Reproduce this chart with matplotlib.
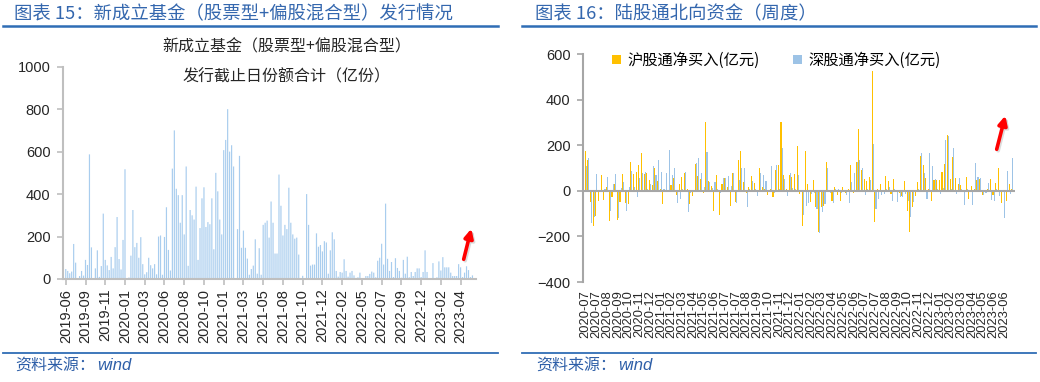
import matplotlib
matplotlib.use('Agg')
import matplotlib.pyplot as plt
import numpy as np
from matplotlib.lines import Line2D
from matplotlib.patches import Patch

plt.rcParams['font.family'] = ['Liberation Sans', 'Noto Sans CJK SC']

# ---------------- data: left chart (weekly new fund issuance, 亿份) ----------------
fund_ticklabels = ['2019-06', '2019-09', '2019-11', '2020-01', '2020-03', '2020-06', '2020-08',
                   '2020-10', '2021-01', '2021-03', '2021-05', '2021-08', '2021-10', '2021-12',
                   '2022-02', '2022-05', '2022-07', '2022-09', '2022-12', '2023-02', '2023-04']
fund_values = [
    47, 38, 27, 35, 165, 77, 3, 14, 38, 16,
    90, 66, 587, 149, 0, 50, 135, 10, 61, 308,
    90, 64, 42, 104, 50, 150, 292, 94, 45, 184,
    517, 0, 7, 110, 325, 150, 170, 100, 197, 70,
    22, 32, 100, 65, 50, 70, 22, 200, 205, 20,
    198, 338, 137, 40, 520, 700, 425, 395, 265, 395,
    210, 530, 62, 325, 300, 280, 435, 90, 240, 380,
    432, 245, 268, 258, 380, 140, 500, 413, 280, 210,
    607, 655, 800, 600, 630, 530, 0, 235, 580, 147,
    228, 147, 96, 20, 47, 63, 187, 25, 145, 20,
    255, 265, 275, 195,
    365, 265, 120, 120, 492, 345, 205, 255, 235, 430,
    265, 210, 190, 195, 115, 0, 15, 0, 400, 255,
    63, 68, 68, 215, 152, 160, 130, 178, 172, 25,
    135, 220, 187, 38, 11, 33, 30, 93, 38, 11,
    30, 38, 17, 5, 8, 30, 0, 0, 14, 14,
    24, 35, 30, 8, 86, 100, 166, 68, 355, 95,
    38, 80, 9, 98, 52, 38, 6, 90, 25, 105,
    8, 33, 14, 33, 50, 50, 9, 33, 135, 33,
    0, 0, 75, 0, 8, 83, 40, 103, 55, 55,
    55, 30, 14, 14, 14, 70, 55, 9, 30, 60,
    42, 9, 17]

# ---------------- data: right chart (weekly northbound flows, 亿元) ----------------
north_ticklabels = ['2020-07', '2020-07', '2020-08', '2020-09', '2020-10', '2020-11', '2020-12',
                    '2021-01', '2021-02', '2021-03', '2021-04', '2021-05', '2021-06', '2021-07',
                    '2021-07', '2021-08', '2021-09', '2021-10', '2021-11', '2021-12',
                    '2022-01', '2022-02', '2022-03', '2022-04', '2022-05', '2022-06', '2022-07',
                    '2022-07', '2022-08', '2022-09', '2022-10', '2022-11', '2022-12',
                    '2023-01', '2023-02', '2023-03', '2023-04', '2023-05', '2023-06', '2023-06']
sh_connect = [
    175, 137, -48, -155, -111, -44, 69, -41, 18, -133,
    -29, 32, -126, -51, 73, -53, -58, 127, 73, 82,
    115, 164, 73, 79, 47, 25, 102, 41, 10, -58,
    -4, 5, 25, 54, -19, 32, 61, 79, 6, -58,
    -23, 117, 67, 50, -9, 301, 44, 23, -88, 69,
    -107, 29, 54, 15, -66, 79, -48, 134, 175, 39,
    -9, 15, 64, 35, 5, 98, 18, 8, -19, 6,
    -26, 91, 112, 301, 69, 6, 69, 61, 73, 196,
    -12, -155, 175, 29, -48, 47, -70, -180, -73, -67,
    127, 4, -44, 15, -19, -45, 15, -9, 6, 112,
    -9, 127, 272, 91, 50, 44, 61, 524, -136, 8,
    29, -4, 64, 44, -12, 50, 5, -9, -23, 44,
    -88, -180, -70, -23, 39, 152, 112, 58, 8, -44,
    47, 47, 47, 82, 117, 244, 50, 149, 54, 29,
    25, 3, 61, -38, 20, 6, 47, 50, -19, 5,
    10, 50, -19, 35, 98, -55, 5, -44, 32, 6]
sz_connect = [
    108, 143, -140, -114, 72, -6, 5, 8, 61, -88,
    28, 73, -118, 12, 38, -88, 18, 88, 18, -26,
    54, 80, 82, 10, 32, 108, 69, 137, 83, 6,
    76, 178, 69, 102, -53, -38, 8, 83, -92, -10,
    5, 123, 142, 76, 18, 168, 39, 12, 39, 6,
    -9, 54, 58, 64, 23, 76, -55, 47, 102, 98,
    -70, 8, 42, 10, -23, 79, 69, 44, -5, 108,
    -8, 112, 10, 187, 50, -23, 76, 12, 8, 69,
    -6, -107, -66, -53, -12, -9, -82, -184, -92, -58,
    98, -9, -53, 10, 6, -8, -4, -19, -53, 39,
    76, 127, 137, 98, -19, 8, 47, 204, -82, -34,
    -19, -12, 10, 18, -44, 10, -48, -26, -29, -12,
    -44, -114, -48, -6, 8, 166, 76, -38, 166, 108,
    50, 10, -16, 12, 222, 239, 8, 187, -15, 54,
    6, -63, 10, -5, -63, 124, 61, 54, -19, -9,
    35, -41, -45, 6, -23, -6, -121, 88, -12, 146]

W, H = 1040, 382
fig = plt.figure(figsize=(W / 100, H / 100), dpi=100)
fig.patch.set_facecolor('white')

def fx(px):
    return px / W

def fy(py):
    return 1 - py / H

HEAD_BLUE = '#3467AE'
LINE_BLUE = '#2F6DB5'
AX_GREY = '#BFBFBF'
TXT = '#262626'

# ---------------- left chart ----------------
ax1 = fig.add_axes([fx(63), fy(279), fx(476) - fx(63), fy(66.7) - fy(279)])
xf = np.arange(len(fund_values))
ax1.bar(xf, fund_values, width=0.6, color='#A9CDEE', linewidth=0, snap=False)
ax1.set_xlim(-1.4, len(fund_values) + 0.8)
ax1.set_ylim(0, 1000)
ax1.set_yticks(np.arange(0, 1001, 200))
ax1.set_xticks(np.arange(0, len(fund_ticklabels) * 10, 10))
ax1.set_xticklabels(fund_ticklabels, rotation=90)
for s in ['top', 'right']:
    ax1.spines[s].set_visible(False)
for s in ['left', 'bottom']:
    ax1.spines[s].set_color(AX_GREY)
    ax1.spines[s].set_linewidth(1.5)
ax1.tick_params(axis='both', colors=AX_GREY, labelcolor=TXT, length=4, width=1.2, labelsize=10.5)
ax1.tick_params(axis='y', pad=5)
ax1.tick_params(axis='x', pad=3)

fig.text(fx(287), fy(47), '新成立基金（股票型+偏股混合型）', ha='center', va='center',
         fontsize=11.5, color=TXT, family=['Noto Sans CJK SC'])
fig.text(fx(287), fy(77), '发行截止日份额合计（亿份）', ha='center', va='center',
         fontsize=11.5, color=TXT, family=['Noto Sans CJK SC'])

# ---------------- right chart ----------------
ax2 = fig.add_axes([fx(583), fy(282), fx(1015) - fx(583), fy(54) - fy(282)])
xn = np.arange(len(sh_connect))
ax2.bar(xn - 0.2, sh_connect, width=0.4, color='#FFC000', linewidth=0)
ax2.bar(xn + 0.2, sz_connect, width=0.4, color='#9DC3E6', linewidth=0)
ax2.axhline(0, color='#A6A6A6', lw=1.5, zorder=3)
ax2.set_xlim(-1, len(sh_connect))
ax2.set_ylim(-400, 600)
ax2.set_yticks(np.arange(-400, 601, 200))
ax2.set_xticks(np.arange(0, len(north_ticklabels) * 4, 4))
ax2.set_xticklabels(north_ticklabels, rotation=90)
for s in ['top', 'right', 'bottom']:
    ax2.spines[s].set_visible(False)
ax2.spines['left'].set_color('#A6A6A6')
ax2.spines['left'].set_linewidth(1.5)
ax2.tick_params(axis='y', colors='#A6A6A6', labelcolor=TXT, length=4, width=1.2,
                labelsize=10.5, pad=5)
ax2.tick_params(axis='x', length=0, labelsize=9.3, labelcolor=TXT, pad=6)

handles = [Patch(facecolor='#FFC000', edgecolor='none'), Patch(facecolor='#9DC3E6', edgecolor='none')]
ax2.legend(handles, ['沪股通净买入(亿元)', '深股通净买入(亿元)'], loc='upper left',
           bbox_to_anchor=(0.035, 1.07), ncol=2, frameon=False, handlelength=0.6,
           handleheight=0.6, handletextpad=0.4, columnspacing=2.2,
           prop={'family': ['Noto Sans CJK SC'], 'size': 11})

# ---------------- arrows ----------------
for (x0, y0, x1, y1) in [(463, 262, 472, 226), (996, 152, 1006, 113)]:
    fig.add_artist(plt.Annotation('', xy=(fx(x1 + 1.5), fy(y1 + 1.5)), xytext=(fx(x0 + 1.5), fy(y0 + 1.5)),
                                  xycoords='figure fraction', textcoords='figure fraction',
                                  arrowprops=dict(arrowstyle='-|>', color='#BBBBBB', lw=2.6,
                                                  mutation_scale=13, alpha=0.5)))
    fig.add_artist(plt.Annotation('', xy=(fx(x1), fy(y1)), xytext=(fx(x0), fy(y0)),
                                  xycoords='figure fraction', textcoords='figure fraction',
                                  arrowprops=dict(arrowstyle='-|>', color='#FF0000', lw=2.6,
                                                  mutation_scale=13)))

# ---------------- headers / footers ----------------
fig.text(fx(14), fy(14), '图表 15：新成立基金（股票型+偏股混合型）发行情况', ha='left', va='center',
         fontsize=13.2, color=HEAD_BLUE, family=['Noto Sans CJK SC'])
fig.text(fx(535), fy(14), '图表 16：陆股通北向资金（周度）', ha='left', va='center',
         fontsize=13.2, color=HEAD_BLUE, family=['Noto Sans CJK SC'])
for (a, b) in [(3, 498), (522, 1036)]:
    fig.add_artist(Line2D([fx(a), fx(b)], [fy(25.5), fy(25.5)], color=LINE_BLUE, lw=1.8))
    fig.add_artist(Line2D([fx(a), fx(b)], [fy(353), fy(353)], color=LINE_BLUE, lw=1.3))
fig.text(fx(15), fy(365), '资料来源：', ha='left', va='center', fontsize=11.5,
         color='#2E5FA8', family=['Noto Sans CJK SC'])
fig.text(fx(97), fy(365), 'wind', ha='left', va='center', fontsize=12,
         color='#2E5FA8', style='italic', family=['Liberation Sans'])
fig.text(fx(536), fy(365), '资料来源：', ha='left', va='center', fontsize=11.5,
         color='#2E5FA8', family=['Noto Sans CJK SC'])
fig.text(fx(618), fy(365), 'wind', ha='left', va='center', fontsize=12,
         color='#2E5FA8', style='italic', family=['Liberation Sans'])

fig.savefig('out.png', dpi=100, facecolor='white')
